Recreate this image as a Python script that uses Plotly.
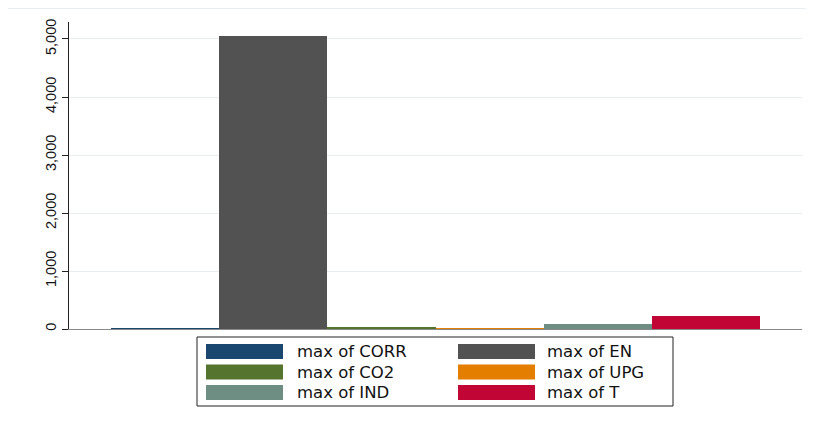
import plotly.graph_objects as go

series = ["max of CORR", "max of EN", "max of CO2", "max of UPG", "max of IND", "max of T"]
values = [8, 5052, 30, 10, 85, 222]
colors = ["#1a476f", "#525252", "#55752f", "#e37e00", "#6e8e84", "#c10534"]
y_ticks = [0, 1000, 2000, 3000, 4000, 5000]

OFF = 8  # default page body margin
W, H = 814 - OFF, 421 - OFF
# plot area in page pixels: x 69..802, y 22..329
L, R, T, B = 69 - OFF, 814 - 802, 22 - OFF, 421 - 329
pw, ph = W - L - R, H - T - B

def px(x):
    return (x - OFF - L) / pw

def py(y):
    return (H - B - (y - OFF)) / ph

fig = go.Figure()
fig.add_trace(go.Bar(
    x=list(range(len(series))), y=values, width=1,
    marker=dict(color=colors, line=dict(width=0)),
    showlegend=False, hoverinfo="y",
))

shapes = []
annotations = []
# faint outer top line
shapes.append(dict(type="line", xref="paper", yref="paper", x0=px(8), x1=px(814), y0=py(8.5), y1=py(8.5),
                   line=dict(color="#e8eef0", width=1)))
# legend box
shapes.append(dict(type="rect", xref="paper", yref="paper", x0=px(197), x1=px(673), y0=py(337), y1=py(406),
                   line=dict(color="#222222", width=1), fillcolor="white"))
rows = [351.5, 372, 392.5]
cols = [(206, 283, 298), (458, 535, 548)]
for i, (name, col) in enumerate(zip(series, colors)):
    r, c = divmod(i, 2)
    sx0, sx1, tx = cols[c]
    yc = rows[r]
    shapes.append(dict(type="rect", xref="paper", yref="paper", x0=px(sx0), x1=px(sx1),
                       y0=py(yc - 7.5), y1=py(yc + 7.5), line=dict(width=0), fillcolor=col))
    annotations.append(dict(xref="paper", yref="paper", x=px(tx) - 0.004, y=py(yc), text=name,
                            showarrow=False, xanchor="left", yanchor="middle",
                            font=dict(family="DejaVu Sans", size=16.5, color="#111111")))

fig.update_layout(
    width=W, height=H,
    margin=dict(l=L, r=R, t=T, b=B),
    paper_bgcolor="white", plot_bgcolor="white",
    shapes=shapes, annotations=annotations,
    bargap=0,
    xaxis=dict(range=[-0.888, 5.888], showticklabels=False, showgrid=False, zeroline=False,
               showline=True, linecolor="#8a8a8a", linewidth=1, ticks="", fixedrange=True),
    yaxis=dict(range=[0, 5293], tickvals=y_ticks, tickformat=",d", tickangle=-90,
               showgrid=True, gridcolor="#e8eef0", gridwidth=1, zeroline=False,
               showline=True, linecolor="#222222", linewidth=1,
               ticks="outside", ticklen=6, tickcolor="#222222",
               tickfont=dict(family="Liberation Sans, Arial", size=14.5, color="#111111")),
    font=dict(family="Liberation Sans, Arial"),
)

fig.write_html("out.html")
